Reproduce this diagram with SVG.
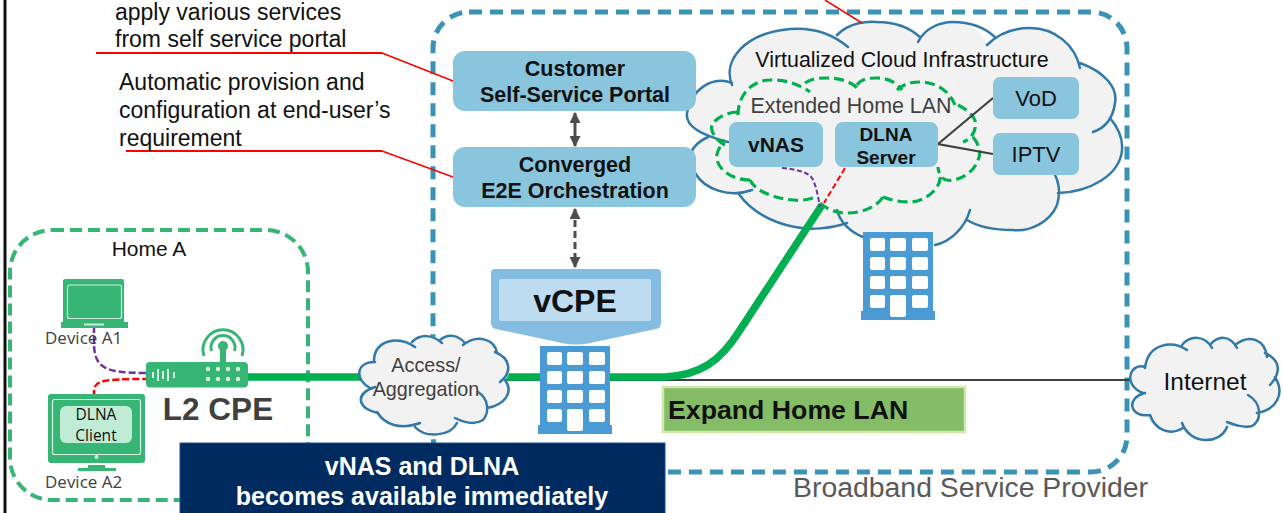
<svg xmlns="http://www.w3.org/2000/svg" width="1283" height="513" viewBox="0 0 1283 513">
<style>
text{font-family:"Liberation Sans",Arial,sans-serif;fill:#111}
.b{font-weight:bold}
.m{text-anchor:middle}
.g{fill:#404040}
.cal{font-family:"Open Sans","Noto Sans",sans-serif;font-size:17px;fill:#404040}
.box{fill:#89c5dc}
.cf{fill:#f2f2f2}
.cs{fill:none;stroke:#3079a8;stroke-width:2.5;stroke-linecap:round}
.gd{fill:none;stroke:#00b050;stroke-width:3.2;stroke-dasharray:10 5}
.red{fill:none;stroke:#f00;stroke-width:1.5}
.red2{fill:none;stroke:#f00;stroke-width:2.2}
.dev{fill:#37b574}
.win{fill:#fff}
</style>
<defs>
<g id="bld">
<path fill="#4a9ad4" d="M540,346H610V425H612V434H538V425H540Z"/>
<g class="win"><rect x="547" y="352" width="15" height="13" rx="2"/><rect x="567" y="352" width="16" height="13" rx="2"/><rect x="589" y="352" width="16" height="13" rx="2"/><rect x="547" y="371" width="15" height="13" rx="2"/><rect x="567" y="371" width="16" height="13" rx="2"/><rect x="589" y="371" width="16" height="13" rx="2"/><rect x="547" y="390" width="15" height="13" rx="2"/><rect x="567" y="390" width="16" height="13" rx="2"/><rect x="589" y="390" width="16" height="13" rx="2"/><rect x="547" y="409" width="15" height="13" rx="2"/><rect x="567" y="409" width="16" height="22" rx="2"/><rect x="589" y="409" width="16" height="13" rx="2"/></g>
</g>
<marker id="ah" viewBox="0 0 10 10" refX="9" refY="5" markerWidth="11" markerHeight="11" markerUnits="userSpaceOnUse" orient="auto-start-reverse"><path d="M0,0L10,5L0,10Z" fill="#4d4d4d"/></marker>
</defs>
<rect width="1283" height="513" fill="#fff"/>
<rect x="3.500" y="0" width="3" height="513" fill="#111"/>

<g id="provider-zone"><rect x="433" y="12" width="694" height="460" rx="36" fill="none" stroke="#3a93b5" stroke-width="5" stroke-dasharray="13 8"/>
<text x="793" y="497" font-size="28.400" style="fill:#595959">Broadband Service Provider</text></g>

<g id="home-a"><rect x="10" y="230" width="298" height="270" rx="42" fill="none" stroke="#36b574" stroke-width="4" stroke-dasharray="12 6"/>
<text x="149" y="256" font-size="21" class="m">Home A</text></g>

<g id="cloud-infra">
<path class="cf" d="M732,85C722,60 745,33 790,29C815,27 825,32 837,35C850,22 868,21 877,22C895,22 910,28 920,37C925,28 940,22 953,22C970,22 980,28 987,45C1000,32 1015,28 1030,28C1055,28 1075,45 1080,63C1105,72 1118,88 1115,103L1110,118C1120,130 1123,140 1122,150C1120,175 1090,192 1058,197C1050,222 1030,232 1013,230C995,230 980,228 967,220C962,232 950,242 935,245L863,237C850,232 845,228 847,223C830,229 810,230 795,227C770,222 750,210 738,193C730,198 705,190 695,173C685,160 690,145 708,137C695,130 685,125 687,113C690,92 710,75 732,85Z"/>
<path class="cs" d="M732,85C722,60 745,33 790,29C815,27 835,36 848,47M837,35C850,22 868,21 877,22C895,22 910,28 920,37M918,42C925,28 940,22 953,22C970,22 985,28 995,37M987,45C1000,32 1015,28 1030,28C1055,28 1075,45 1080,68M1080,63C1105,72 1118,88 1115,103C1113,118 1105,128 1093,132M1110,118C1120,130 1123,140 1122,150C1120,175 1090,192 1058,193M1055,175C1060,185 1060,195 1057,205C1050,222 1030,232 1013,230C995,230 980,228 967,220M970,210C965,228 950,242 935,245M863,237C850,232 840,222 837,210M847,223C830,229 810,230 795,227C770,222 750,210 738,193M752,190C730,198 705,190 695,173C685,160 690,145 708,137M728,142C700,135 685,125 687,113C690,92 710,75 732,83"/>
<text x="902" y="67" font-size="21.400" class="m">Virtualized Cloud Infrastructure</text>
</g>

<g id="extended-home-lan">
<path class="gd" d="M738,115C738,92 755,80 770,80C785,79 800,85 810,92M805,83C812,78 820,78 827,78C840,78 852,82 857,88M857,85C862,78 870,78 877,78C888,78 897,83 902,90M897,90C905,83 912,82 920,82C933,82 948,88 955,105M958,105C968,110 977,118 975,125C976,132 970,140 963,142M973,137C980,145 981,155 978,160C973,175 955,182 947,180C942,180 938,172 938,167M940,177C941,188 925,202 910,202C900,202 890,200 883,197M883,197C878,205 865,213 847,213C835,213 825,208 820,203M813,198C800,202 790,200 780,198C768,195 755,190 750,180M750,180C735,180 720,172 717,160C715,155 720,145 725,140M725,145C715,140 710,130 712,125C715,118 728,112 738,112"/>
<text x="851" y="113" font-size="21.400" class="m g">Extended Home LAN</text>
</g>

<g id="connectors">
<path d="M360,380H1130" fill="none" stroke="#404040" stroke-width="2.200"/>
<path d="M247,377H665C700,375 720,362 740,330L822,205" fill="none" stroke="#00b050" stroke-width="7.500"/>
<path d="M94,326V345C95,368 105,373 146,373" fill="none" stroke="#7030a0" stroke-width="2.500" stroke-dasharray="7 3"/>
<path d="M94,397V390C95,381 102,379 146,379" fill="none" stroke="#f00" stroke-width="2.500" stroke-dasharray="7 3"/>
<path class="red2" d="M96,53H382"/><path class="red" d="M382,53L453,81"/>
<path class="red2" d="M126,151H382"/><path class="red" d="M382,151L453,177"/>
<path class="red" d="M825,0L862,23"/>
<path d="M575,113V146" fill="none" stroke="#4d4d4d" stroke-width="3" marker-start="url(#ah)" marker-end="url(#ah)"/>
<path d="M575,209V267" fill="none" stroke="#4d4d4d" stroke-width="3" stroke-dasharray="7 4" marker-start="url(#ah)" marker-end="url(#ah)"/>
<path d="M782,168C795,169 808,172 812,178C816,185 818,196 820,207" fill="none" stroke="#7030a0" stroke-width="2" stroke-dasharray="5 2.500"/>
<path d="M845,168L824,203" fill="none" stroke="#f00" stroke-width="2" stroke-dasharray="6 3"/>
<path d="M993,98L938,144L993,154" fill="none" stroke="#404040" stroke-width="2.200"/>
</g>

<g id="portal"><rect class="box" x="453" y="51" width="243" height="60" rx="12"/>
<text x="575" y="76" font-size="21.500" class="b m">Customer</text><text x="575" y="102" font-size="21.500" class="b m">Self-Service Portal</text></g>
<g id="orchestration"><rect class="box" x="453" y="147" width="243" height="60" rx="12"/>
<text x="575" y="172" font-size="21.500" class="b m">Converged</text><text x="575" y="198" font-size="21.500" class="b m">E2E Orchestration</text></g>
<g id="vnas"><rect class="box" x="729" y="122" width="94" height="45" rx="8"/><text x="776" y="152" font-size="21" class="b m">vNAS</text></g>
<g id="dlna-server"><rect class="box" x="835" y="122" width="103" height="45" rx="8"/><text x="886" y="141" font-size="19" class="b m">DLNA</text><text x="886" y="164" font-size="19" class="b m">Server</text></g>
<g id="vod"><rect class="box" x="993" y="77" width="86" height="42" rx="7"/><text x="1036" y="106" font-size="22" class="m">VoD</text></g>
<g id="iptv"><rect class="box" x="993" y="133" width="86" height="42" rx="7"/><text x="1036" y="162" font-size="22" class="m">IPTV</text></g>

<g id="dc-building"><use href="#bld" transform="translate(323,-114)"/></g>

<g id="vcpe">
<path fill="#85bde2" d="M495,269H657Q661,269 661,273V323Q661,328 656,329L590,343Q576,346 562,343L496,329Q491,328 491,323V273Q491,269 495,269Z"/>
<rect x="499" y="279" width="152" height="42" rx="2" fill="#bddcf0"/>
<text x="575" y="312" font-size="32" class="b m">vCPE</text>
</g>
<g id="vcpe-building"><use href="#bld"/></g>

<g id="access-cloud">
<path class="cf" d="M374,360C375,340 398,335 412,342C420,334 432,334 440,340C448,333 458,335 463,345C478,333 495,340 497,353C510,358 513,372 505,380C514,392 505,405 487,408C488,420 470,424 457,423C450,437 425,438 420,423C400,430 385,425 378,413C360,410 352,395 370,388C355,380 355,362 374,360Z"/>
<path class="cs" d="M374,360C375,340 398,335 415,347M412,342C420,334 432,334 442,343M440,340C448,333 458,335 465,343M463,345C478,333 495,340 497,353M495,352C510,358 513,372 500,382M505,380C514,392 505,405 487,408M478,392C488,398 490,412 483,420C475,425 465,423 455,418M457,423C450,437 425,438 415,427M420,423C400,430 385,425 377,412M378,413C360,410 352,395 375,387M370,388C355,380 355,362 375,362"/>
<text x="426" y="372" font-size="19.800" class="m g">Access/</text><text x="426" y="396" font-size="19.800" class="m g">Aggregation</text>
</g>

<g id="expand-label"><rect x="663" y="387" width="302" height="45" fill="#84bd65" stroke="#cdeaa8" stroke-width="2.500"/>
<text x="668" y="419" font-size="26.700" class="b">Expand Home LAN</text></g>

<g id="internet">
<path class="cf" d="M1145,368C1148,343 1172,340 1182,345C1190,335 1205,335 1210,345C1218,335 1230,335 1235,345C1250,333 1265,340 1265,353C1280,360 1282,372 1275,377C1286,395 1275,410 1257,413C1256,425 1240,428 1227,427C1220,445 1190,445 1183,428C1170,436 1155,430 1150,415C1130,418 1125,398 1143,393C1122,385 1130,362 1145,368Z"/>
<path class="cs" d="M1145,368C1148,343 1172,340 1187,350M1182,345C1190,335 1205,335 1212,348M1210,345C1218,335 1230,335 1237,348M1235,345C1250,333 1265,340 1267,357M1265,353C1280,360 1282,372 1270,385M1275,377C1286,395 1275,410 1257,413M1248,395C1262,403 1262,420 1252,426C1243,428 1235,425 1227,422M1227,427C1220,445 1190,445 1182,423M1183,428C1170,436 1155,430 1150,415M1150,415C1130,418 1125,398 1145,393M1143,393C1122,385 1130,362 1145,367"/>
<text x="1205" y="390" font-size="24.500" class="m">Internet</text>
</g>

<g id="device-a1">
<path class="dev" d="M66,279H122Q124,279 124,281V322H128V328H61V322H63V281Q63,279 66,279Z"/>
<rect x="67.500" y="285" width="54" height="33.500" rx="2" fill="none" stroke="#c9eedb" stroke-width="1.200"/>
<rect x="84" y="323.500" width="20" height="2" fill="#c9eedb"/>
<text x="45" y="344" class="cal">Device A1</text>
</g>
<g id="device-a2">
<rect class="dev" x="48" y="394" width="97" height="69" rx="3"/>
<rect x="52.500" y="399.500" width="88" height="55" rx="2" fill="none" stroke="#d5f3e3" stroke-width="1.200"/>
<rect x="60" y="406" width="72" height="37" rx="6" fill="#c0ecd5"/>
<text x="96" y="420" font-size="15.500" class="m" style="font-family:'Open Sans','Noto Sans',sans-serif">DLNA</text><text x="96" y="441" font-size="15.500" class="m" style="font-family:'Open Sans','Noto Sans',sans-serif">Client</text>
<circle cx="96.500" cy="457" r="2" fill="#d5f3e3"/>
<path class="dev" d="M88,465H105V468H116V471H78V468H88Z"/>
<text x="45" y="488" class="cal">Device A2</text>
</g>
<g id="l2-cpe">
<rect class="dev" x="146" y="362" width="102" height="25.500" rx="4"/>
<rect class="dev" x="220" y="350" width="6" height="13"/>
<circle class="dev" cx="223" cy="346" r="5"/>
<path d="M211.500,351A12,12 0 1 1 234.500,351M204,356A20,20 0 1 1 242,356" fill="none" stroke="#37b574" stroke-width="3"/>
<path d="M153,372V378M158,369V381M163,371V379M168,369V381M174,372V378" stroke="#d5f3e3" stroke-width="2" fill="none"/>
<g fill="#d5f3e3"><circle cx="208" cy="369" r="2.200"/><circle cx="218" cy="369" r="2.200"/><circle cx="228" cy="369" r="2.200"/><circle cx="238" cy="369" r="2.200"/><circle cx="208" cy="379" r="2.200"/><circle cx="218" cy="379" r="2.200"/><circle cx="228" cy="379" r="2.200"/><circle cx="238" cy="379" r="2.200"/></g>
<text x="218" y="420" font-size="31.500" class="b m g">L2 CPE</text>
</g>

<g id="notes">
<text x="115" y="20" font-size="23">apply various services</text>
<text x="115" y="47" font-size="23">from self service portal</text>
<text x="119" y="90" font-size="23">Automatic provision and</text>
<text x="119" y="118" font-size="23">configuration at end-user’s</text>
<text x="119" y="146" font-size="23">requirement</text>
</g>

<g id="banner"><rect x="180" y="443" width="485" height="72" fill="#002b60" stroke="#1f4e8c" stroke-width="1"/>
<text x="422" y="475" font-size="25" class="b m" style="fill:#fff">vNAS and DLNA</text>
<text x="422" y="505" font-size="25" class="b m" style="fill:#fff">becomes available immediately</text></g>
</svg>
